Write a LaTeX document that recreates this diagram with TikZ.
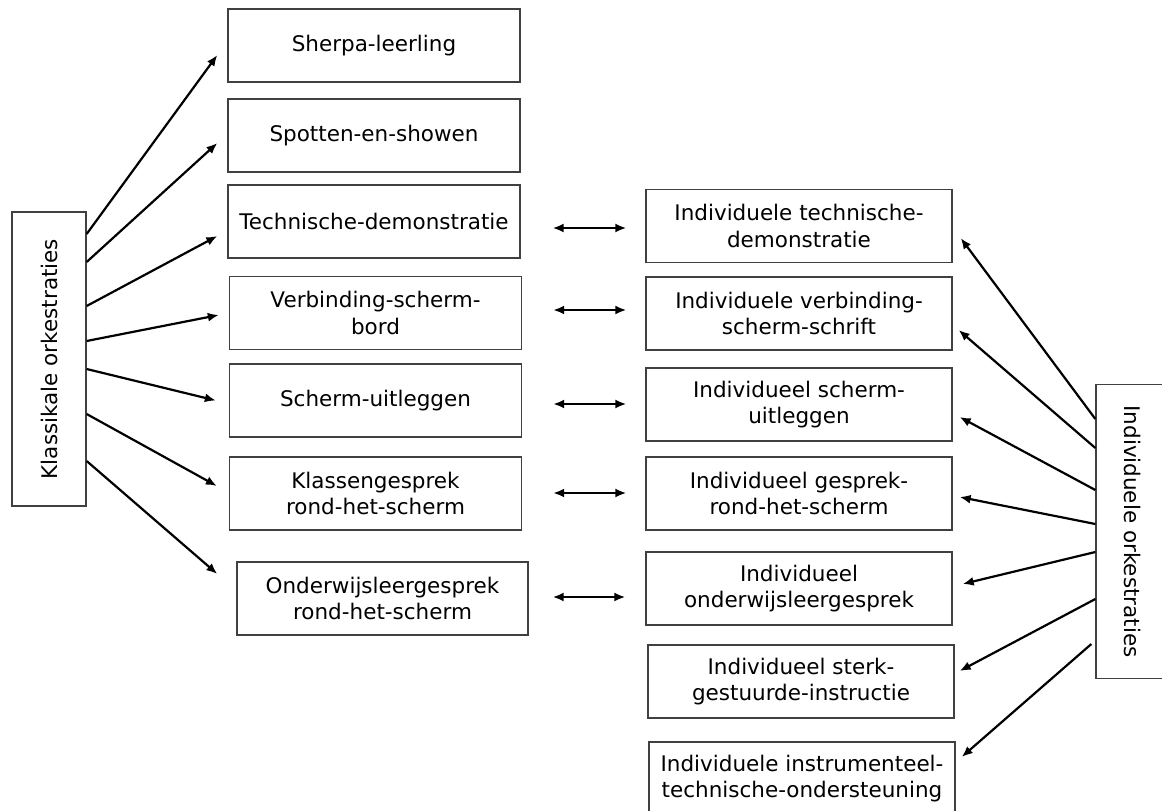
\documentclass[tikz,border=0pt]{standalone}
\usepackage{fontspec}
\setmainfont{DejaVu Sans}
\usetikzlibrary{arrows.meta}

\begin{document}
\begin{tikzpicture}[
        x=1pt, y=-1pt,
        every node/.style={font=\fontsize{21.5}{26.5}\selectfont},
        blok/.style={draw=black!75, line width=1.3pt, minimum width=292pt,
                     minimum height=73pt, inner sep=0pt, align=center},
        rblok/.style={blok, minimum width=306pt},
        zijblok/.style={blok, minimum width=74pt, minimum height=294pt},
        pijl/.style={draw=black, line width=2.2pt, -{Latex[length=11pt,width=9pt]}},
        dubbel/.style={draw=black, line width=2.2pt,
                       {Latex[length=11pt,width=9pt]}-{Latex[length=11pt,width=9pt]}}
    ]
        \useasboundingbox (0,0) rectangle (1162,811);

        % klassikaal
        \node[zijblok] (klas) at (49,359) {\rotatebox{90}{Klassikale orkestraties}};
        \node[blok] (sherpa)  at (374,45.5)   {Sherpa-leerling};
        \node[blok] (spotten) at (374,135.5)  {Spotten-en-showen};
        \node[blok] (techn)   at (374,221.5)  {Technische-demonstratie};
        \node[blok] (verb)    at (375.5,313)  {Verbinding-scherm-\\bord};
        \node[blok] (scherm)  at (375.5,400.5) {Scherm-uitleggen};
        \node[blok] (klass)   at (375.5,493.5) {Klassengesprek\\rond-het-scherm};
        \node[blok, minimum width=291pt] (onderw) at (382.5,598.5)
            {Onderwijsleergesprek\\rond-het-scherm};

        % individueel
        \node[zijblok] (indiv) at (1133,531.5) {\rotatebox{-90}{Individuele orkestraties}};
        \node[rblok] (rtechn)  at (799,226)   {Individuele technische-\\demonstratie};
        \node[rblok] (rverb)   at (799,313.5) {Individuele verbinding-\\scherm-schrift};
        \node[rblok] (rscherm) at (799,404.5) {Individueel scherm-\\uitleggen};
        \node[rblok] (rgespr)  at (799,493.5) {Individueel gesprek-\\rond-het-scherm};
        \node[rblok] (ronderw) at (799,588.5) {Individueel\\onderwijsleergesprek};
        \node[rblok] (rsterk)  at (801,681.5) {Individueel sterk-\\gestuurde-instructie};
        \node[rblok] (rinstr)  at (802,778.5)
            {Individuele instrumenteel-\\technische-ondersteuning};

        \draw[pijl] ([yshift=125pt]klas.east) -- ([xshift=-10pt,yshift=-9.5pt]sherpa.west);
        \draw[pijl] ([yshift=97pt]klas.east)  -- ([xshift=-10pt,yshift=-7.5pt]spotten.west);
        \draw[pijl] ([yshift=53pt]klas.east)  -- ([xshift=-10pt,yshift=-14.5pt]techn.west);
        \draw[pijl] ([yshift=18pt]klas.east)  -- ([xshift=-10pt,yshift=-2pt]verb.west);
        \draw[pijl] ([yshift=-10pt]klas.east) -- ([xshift=-13pt]scherm.west);
        \draw[pijl] ([yshift=-55pt]klas.east) -- ([xshift=-12pt,yshift=7.5pt]klass.west);
        \draw[pijl] ([yshift=-102pt]klas.east) -- ([xshift=-19pt,yshift=24.5pt]onderw.west);

        \draw[dubbel] ([xshift=32pt,yshift=-6.5pt]techn.east) -- ([xshift=-19pt,yshift=-2pt]rtechn.west);
        \draw[dubbel] ([xshift=31pt,yshift=3pt]verb.east) -- ([xshift=-19pt,yshift=3.5pt]rverb.west);
        \draw[dubbel] ([xshift=31pt,yshift=-3.5pt]scherm.east) -- ([xshift=-19pt,yshift=0.5pt]rscherm.west);
        \draw[dubbel] ([xshift=31pt,yshift=0.5pt]klass.east) -- ([xshift=-19pt,yshift=0.5pt]rgespr.west);
        \draw[dubbel] ([xshift=24pt,yshift=1.5pt]onderw.east) -- ([xshift=-20pt,yshift=-8.5pt]ronderw.west);

        \draw[pijl] ([yshift=112.5pt]indiv.west) -- ([xshift=8pt,yshift=-12pt]rtechn.east);
        \draw[pijl] ([yshift=83.5pt]indiv.west)  -- ([xshift=6pt,yshift=-16.5pt]rverb.east);
        \draw[pijl] ([yshift=41.5pt]indiv.west)  -- ([xshift=7pt,yshift=-12.5pt]rscherm.east);
        \draw[pijl] ([yshift=7.5pt]indiv.west)   -- ([xshift=7pt,yshift=-3.5pt]rgespr.east);
        \draw[pijl] ([yshift=-20.5pt]indiv.west) -- ([xshift=10pt,yshift=4.5pt]ronderw.east);
        \draw[pijl] ([yshift=-67.5pt]indiv.west) -- ([xshift=5pt,yshift=10.5pt]rsterk.east);
        \draw[pijl] ([xshift=-4pt,yshift=-112.5pt]indiv.west) -- ([xshift=6pt,yshift=21.5pt]rinstr.east);
    \end{tikzpicture}
\end{document}
